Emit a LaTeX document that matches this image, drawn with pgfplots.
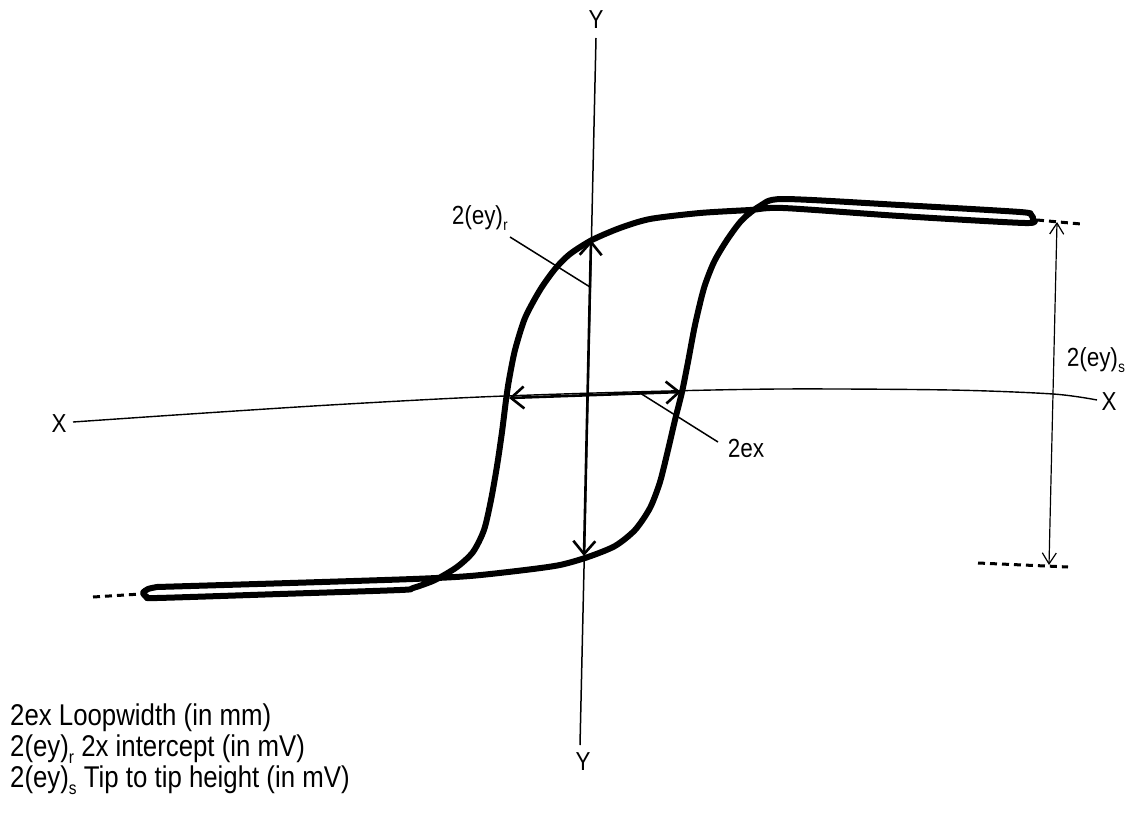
\documentclass[border=0pt]{standalone}
\usepackage{pgfplots}
\pgfplotsset{compat=1.18}
\usepackage{fontspec}
\setmainfont{Liberation Sans}[FakeStretch=0.86]
\usetikzlibrary{arrows.meta}
\newcommand{\sub}[1]{\raisebox{-0.5ex}{\scalebox{0.6}{#1}}}
\tikzset{
  lbl/.style={inner sep=0pt, font=\fontsize{26}{30}\selectfont},
  key/.style={inner sep=0pt, anchor=base west, font=\fontsize{30}{34}\selectfont},
  barb/.style={{Straight Barb[length=13pt,width=22pt]}-{Straight Barb[length=13pt,width=22pt]}},
}
\begin{document}
\begin{tikzpicture}
\begin{axis}[
  scale only axis, width=1130pt, height=816pt,
  xmin=0, xmax=1130, ymin=0, ymax=816, y dir=reverse,
  axis lines=none, clip=false,
]
% keep the whole drawing area in the bounding box
\path (axis cs:0,0) rectangle (axis cs:1130,816);

% X axis (slightly bowed)
\addplot[black, line width=1.4pt, smooth] coordinates {
  (73,422) (190,414) (330,405) (480,397) (630,392) (780,389) (950,390) (1053,394) (1097,400)};
% Y axis
\addplot[black, line width=1.5pt] coordinates {(596,38) (580,745)};

% hysteresis loop
\addplot[black, line width=6pt, smooth, tension=0.45, line join=round] coordinates {
  (157,587) (290,583) (413,579) (470,576) (525,570) (560,565) (588,557) (615,546)
  (635,530) (650,508) (660,482) (668,450) (675,420) (682,392) (688,362) (695,325)
  (704,288) (714,262) (727,240) (742,220) (760,206) (783,199) (900,205) (1020,212)
  (1031,215) (1033,219) (1025,223) (900,216) (783,208) (750,210) (700,213) (650,219)
  (620,228) (592,240) (570,254) (555,269) (540,290) (525,318) (515,350) (509,380)
  (506,400) (502,432) (497,466) (491,500) (484,530) (473,552) (457,567) (435,580)
  (413,588) (400,590) (280,594) (157,598) (147,597) (143,593) (148,589) (157,587)};

% dashed continuations at the tips
\addplot[black, line width=3pt, dash pattern=on 7pt off 5pt] coordinates {(93,597) (141,594)};
\addplot[black, line width=3pt, dash pattern=on 7pt off 5pt] coordinates {(1037,220) (1081,224)};
\addplot[black, line width=3pt, dash pattern=on 7pt off 5pt] coordinates {(978,563) (1068,567)};

% 2(ey)_r double arrow on Y axis
\addplot[black, line width=2.6pt, barb] coordinates {(591,240) (584,556)};
% 2ex double arrow on X axis
\addplot[black, line width=2.6pt, barb] coordinates {(509,398) (681,392)};
% 2(ey)_s tip to tip arrow
\addplot[black, line width=1.2pt, {Straight Barb[length=11pt,width=14pt]}-{Straight Barb[length=11pt,width=14pt]}]
  coordinates {(1057,222) (1049,565)};

% leader lines
\addplot[black, line width=1.5pt] coordinates {(510,237) (590,287)};
\addplot[black, line width=1.5pt] coordinates {(640,393) (718,442)};

% labels
\node[lbl, anchor=base] at (axis cs:596,29) {Y};
\node[lbl, anchor=base] at (axis cs:583,770) {Y};
\node[lbl, anchor=base] at (axis cs:59,432) {X};
\node[lbl, anchor=base] at (axis cs:1109,410) {X};
\node[lbl, anchor=base west, rotate=1.2] at (axis cs:452,225) {2(ey)\sub{r}};
\node[lbl, anchor=base west, rotate=1.2] at (axis cs:728,458) {2ex};
\node[lbl, anchor=base west, rotate=1.2] at (axis cs:1067,367) {2(ey)\sub{s}};

% key
\node[key] at (axis cs:10,725) {2ex Loopwidth (in mm)};
\node[key] at (axis cs:10,756) {2(ey)\sub{r} 2x intercept (in mV)};
\node[key] at (axis cs:10,787) {2(ey)\sub{s} Tip to tip height (in mV)};
\end{axis}
\end{tikzpicture}
\end{document}
